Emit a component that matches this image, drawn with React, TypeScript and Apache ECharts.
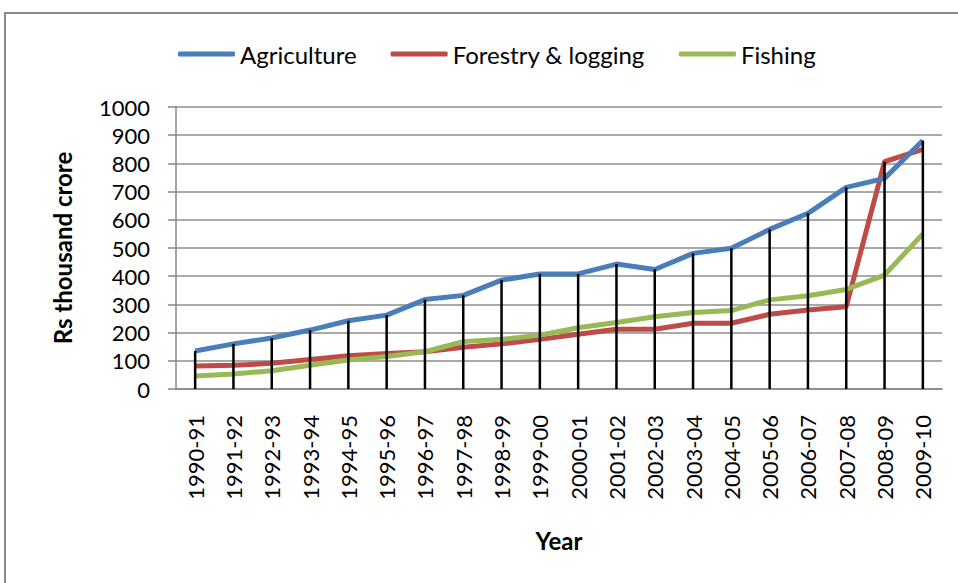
import React, { useEffect, useRef } from "react";
import * as echarts from "echarts";

const categories = [
  "1990-91", "1991-92", "1992-93", "1993-94", "1994-95", "1995-96", "1996-97",
  "1997-98", "1998-99", "1999-00", "2000-01", "2001-02", "2002-03", "2003-04",
  "2004-05", "2005-06", "2006-07", "2007-08", "2008-09", "2009-10",
];
const agriculture = [135, 160, 181, 209, 242, 262, 317, 332, 386, 408, 408, 443, 424, 481, 499, 566, 623, 715, 747, 881];
const forestry = [82, 84, 91, 105, 118, 126, 132, 148, 160, 176, 194, 212, 212, 233, 233, 265, 280, 292, 806, 850];
const fishing = [46, 53, 65, 84, 103, 115, 132, 168, 176, 191, 217, 236, 256, 271, 278, 316, 331, 353, 404, 550];
const yTicks = [0, 100, 200, 300, 400, 500, 600, 700, 800, 900, 1000];

const dropLines = categories.map((_, i) => Math.max(agriculture[i], forestry[i], fishing[i]));

const FONT = "Lato, 'Open Sans', sans-serif";

export default function App() {
  const ref = useRef<HTMLDivElement>(null);
  useEffect(() => {
    if (!ref.current) return;
    const chart = echarts.init(ref.current, undefined, { renderer: "svg" });
    chart.setOption({
      animation: false,
      backgroundColor: "#ffffff",
      textStyle: { fontFamily: FONT },
      graphic: [
        {
          type: "rect",
          shape: { x: 5, y: 13, width: 1000, height: 1000 },
          style: { fill: "none", stroke: "#8a8a8a", lineWidth: 2 },
          silent: true,
        },
      ],
      legend: {
        left: 173,
        top: 37,
        icon: "roundRect",
        itemWidth: 57,
        itemHeight: 5,
        itemGap: 34,
        textStyle: { fontFamily: FONT, fontSize: 24, color: "#000" },
        data: ["Agriculture", "Forestry & logging", "Fishing"],
      },
      grid: { left: 176, right: 16, top: 107, bottom: 194, containLabel: false },
      xAxis: {
        type: "category",
        data: categories,
        boundaryGap: true,
        name: "Year",
        nameLocation: "middle",
        nameGap: 139,
        nameTextStyle: { fontFamily: FONT, fontSize: 24, fontWeight: "bold", color: "#000" },
        axisLine: { lineStyle: { color: "#868686", width: 1.5 } },
        axisTick: { show: false },
        axisLabel: { rotate: 90, margin: 26, fontSize: 22, color: "#000", fontFamily: FONT, interval: 0 },
        splitLine: { show: false },
      },
      yAxis: {
        type: "value",
        min: 0,
        max: 1000,
        interval: 100,
        name: "Rs thousand crore",
        nameLocation: "middle",
        nameGap: 102,
        nameRotate: 90,
        nameTextStyle: { fontFamily: FONT, fontSize: 24, fontWeight: "bold", color: "#000" },
        axisLine: { show: true, lineStyle: { color: "#868686", width: 1.5 } },
        axisTick: { show: true, inside: false, length: 8, lineStyle: { color: "#868686", width: 1.5 } },
        axisLabel: {
          margin: 26,
          fontSize: 22,
          color: "#000",
          fontFamily: FONT,
          formatter: (v: number) => (yTicks.includes(v) ? String(v) : ""),
        },
        splitLine: { show: true, lineStyle: { color: "#8c8c8c", width: 1.5 } },
      },
      series: [
        {
          name: "Agriculture",
          type: "line",
          data: agriculture,
          symbol: "none",
          lineStyle: { color: "#4A7EBB", width: 5 },
          itemStyle: { color: "#4A7EBB" },
          z: 3,
        },
        {
          name: "Forestry & logging",
          type: "line",
          data: forestry,
          symbol: "none",
          lineStyle: { color: "#BE4B48", width: 5 },
          itemStyle: { color: "#BE4B48" },
          z: 2,
        },
        {
          name: "Fishing",
          type: "line",
          data: fishing,
          symbol: "none",
          lineStyle: { color: "#98B954", width: 5 },
          itemStyle: { color: "#98B954" },
          z: 2,
        },
        {
          name: "drop",
          type: "bar",
          data: dropLines,
          barWidth: 2.5,
          itemStyle: { color: "#000" },
          z: 5,
          silent: true,
        },
      ],
    });
    return () => chart.dispose();
  }, []);
  return (
    <div
      ref={ref}
      style={{ position: "fixed", left: 0, top: 0, width: 958, height: 583 }}
    />
  );
}
